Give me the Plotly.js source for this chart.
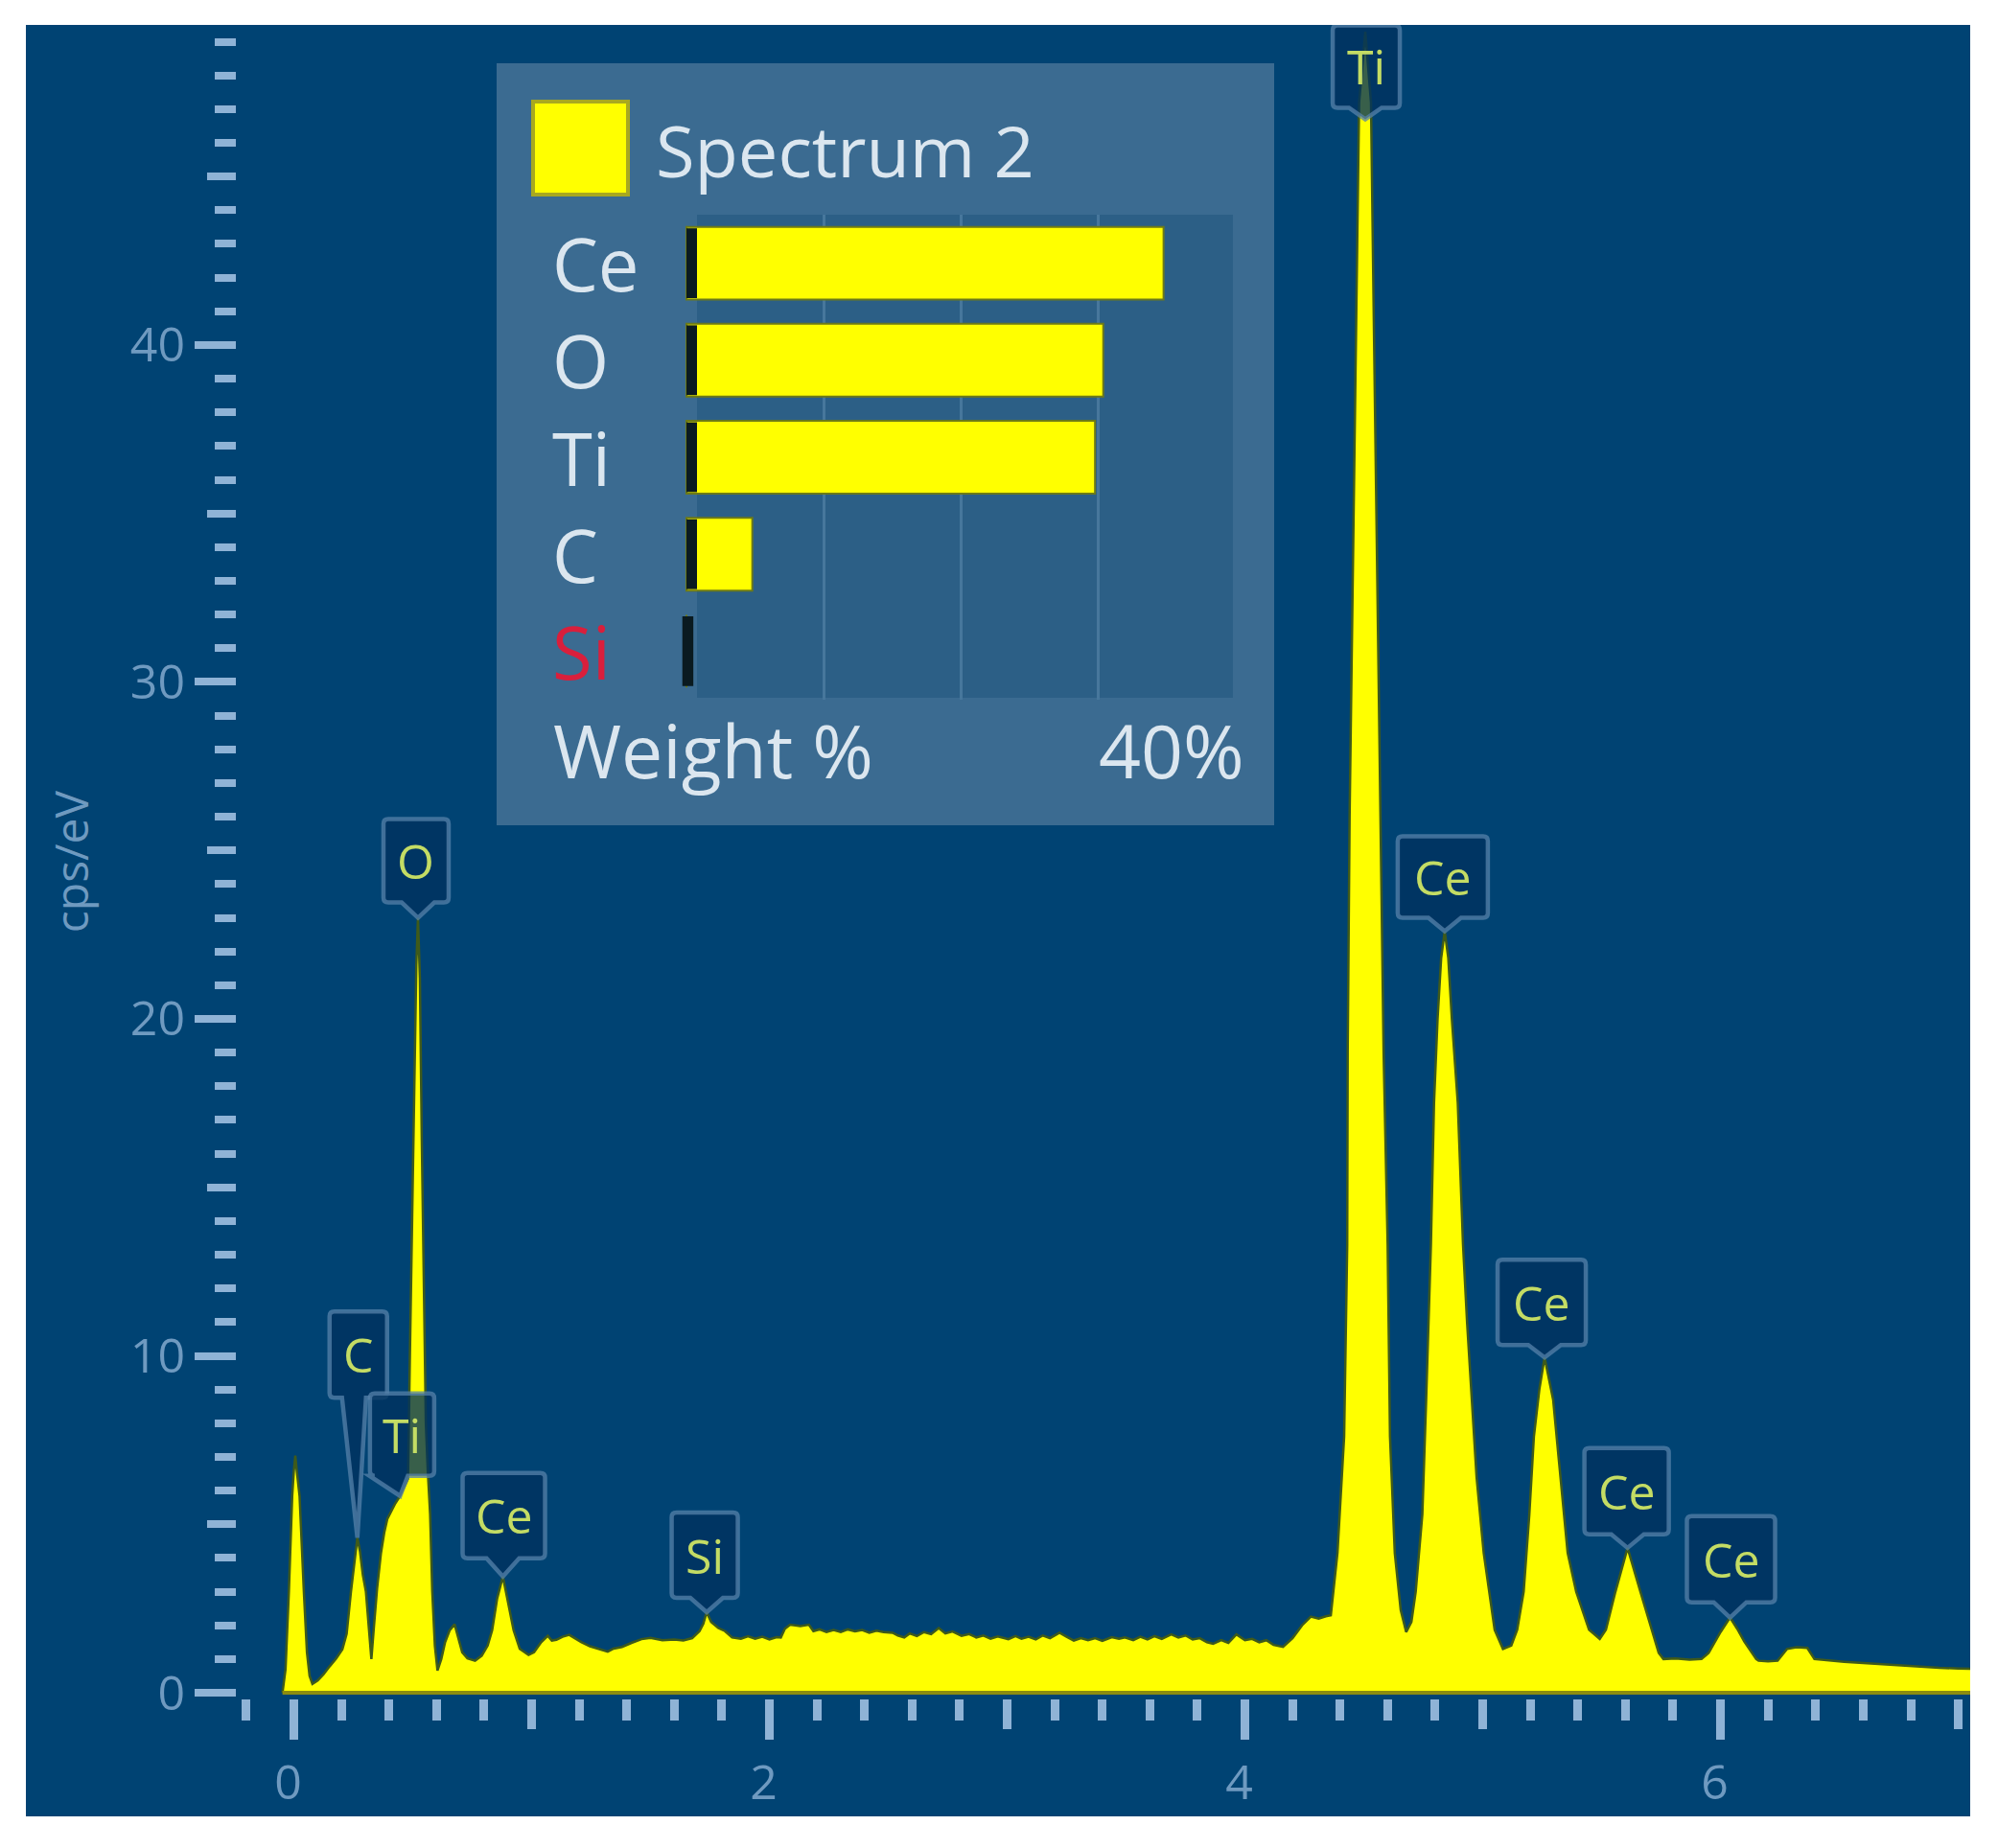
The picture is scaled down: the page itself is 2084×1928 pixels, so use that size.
<!DOCTYPE html>
<html>
<head>
<meta charset="utf-8">
<script src="https://cdn.plot.ly/plotly-3.0.1.min.js"></script>
<style>html,body{margin:0;padding:0;background:#fff}</style>
</head>
<body>
<div id="chart" style="width:2084px;height:1928px"></div>
<script>
const W = 2084, H = 1928;

// spectrum: energy in keV, intensity in cps/eV
const energy = [
  -0.048, -0.035, -0.021, -0.007, 0.0, 0.006, 0.012, 0.024, 0.042, 0.055, 0.066, 0.078, 0.1, 0.125, 0.15, 0.178, 0.204, 0.222, 0.24, 0.255, 0.267,
  0.278, 0.29, 0.303, 0.315, 0.326, 0.336, 0.35, 0.366, 0.38, 0.393, 0.41, 0.425, 0.447, 0.465, 0.48,
  0.488, 0.497, 0.507, 0.515, 0.522, 0.53, 0.538, 0.548, 0.555, 0.563, 0.573, 0.582, 0.593, 0.604,
  0.62, 0.636, 0.655, 0.676, 0.692, 0.708, 0.73, 0.762, 0.79, 0.815, 0.834, 0.855, 0.879, 0.9, 0.924, 0.95, 0.987,
  1.01, 1.04, 1.068, 1.085, 1.104, 1.13, 1.158, 1.18, 1.21, 1.245, 1.284, 1.32, 1.345, 1.38, 1.42, 1.462, 1.5, 1.55, 1.6, 1.638, 1.675, 1.706, 1.722, 1.736, 1.755, 1.785, 1.813, 1.843,
  1.88, 1.91, 1.94, 1.97, 2.0, 2.03, 2.048, 2.065, 2.087, 2.13, 2.166, 2.185, 2.21, 2.24, 2.27, 2.3, 2.33, 2.36, 2.39, 2.42, 2.45, 2.48, 2.518, 2.54, 2.567, 2.59, 2.62, 2.65, 2.68, 2.712, 2.74, 2.77, 2.808,
  2.84, 2.87, 2.9, 2.93, 2.96, 3.005, 3.035, 3.06, 3.09, 3.12, 3.15, 3.18, 3.22, 3.25, 3.28, 3.31, 3.34, 3.37, 3.4, 3.44, 3.47, 3.495, 3.53, 3.56, 3.59, 3.62, 3.65, 3.69, 3.72, 3.75, 3.78, 3.81, 3.84, 3.866, 3.9, 3.93, 3.964, 4.0, 4.03, 4.06, 4.09, 4.12, 4.16, 4.2, 4.24, 4.277, 4.31, 4.34, 4.361,
  4.389, 4.417, 4.43, 4.432, 4.44, 4.47, 4.48, 4.506, 4.53, 4.54, 4.57, 4.583, 4.6, 4.61, 4.63, 4.655, 4.678,
  4.7, 4.718, 4.746, 4.762, 4.772, 4.782, 4.795, 4.81, 4.825, 4.84, 4.855, 4.87, 4.895, 4.917, 4.934, 4.954, 4.974, 5.004, 5.05, 5.085,
  5.12, 5.145, 5.172, 5.196, 5.215, 5.238, 5.26, 5.296, 5.327, 5.357, 5.393, 5.447, 5.492,
  5.518, 5.558, 5.609, 5.663, 5.71, 5.74, 5.76, 5.81, 5.87, 5.92, 5.95, 6.0, 6.04, 6.07, 6.1, 6.15, 6.16, 6.2, 6.24, 6.28, 6.32, 6.365, 6.395,
  6.45, 6.52, 6.6, 6.68, 6.76, 6.84, 6.92, 7.0, 7.06
];
const counts = [
  0, 0.7, 3.0, 5.84, 6.6, 7.04, 6.6, 5.84, 3.0, 1.2, 0.5, 0.26, 0.36, 0.55, 0.78, 1.02, 1.29, 1.75, 3.0, 4.0, 4.6,
  4.2, 3.5, 3.0, 1.8, 1.0, 1.9, 3.1, 4.13, 4.75, 5.16, 5.4, 5.6, 5.84, 6.1, 6.35,
  10.0, 14.2, 18.4, 21.6, 23.0, 21.2, 16.4, 11.0, 8.0, 6.6, 5.3, 3.0, 1.4, 0.66,
  1.0, 1.5, 1.85, 2.03, 1.65, 1.2, 1.02, 0.95, 1.1, 1.4, 1.86, 2.8, 3.45, 2.7, 1.86, 1.3, 1.12,
  1.2, 1.5, 1.69, 1.55, 1.57, 1.66, 1.72, 1.62, 1.5, 1.38, 1.29, 1.22, 1.31, 1.36, 1.48, 1.59, 1.63, 1.56, 1.58, 1.55, 1.62, 1.83, 2.05, 2.39, 2.1, 1.92, 1.83, 1.64,
  1.6, 1.68, 1.6, 1.66, 1.58, 1.65, 1.64, 1.9, 2.02, 1.98, 2.02, 1.83, 1.88, 1.8, 1.86, 1.8, 1.88, 1.82, 1.86, 1.78, 1.84, 1.8, 1.78, 1.7, 1.64, 1.76, 1.68, 1.8, 1.74, 1.92, 1.76, 1.82, 1.69,
  1.74, 1.64, 1.7, 1.6, 1.67, 1.59, 1.68, 1.6, 1.66, 1.58, 1.7, 1.62, 1.78, 1.66, 1.55, 1.62, 1.56, 1.62, 1.54, 1.65, 1.6, 1.64, 1.56, 1.66, 1.58, 1.68, 1.6, 1.73, 1.64, 1.7, 1.58, 1.62, 1.5, 1.45, 1.56, 1.48, 1.73, 1.56, 1.6, 1.5, 1.56, 1.42, 1.36, 1.62, 2.0, 2.26, 2.2, 2.27, 2.3,
  4.15, 7.6, 13.3, 19.0, 26.0, 41.7, 47.2, 49.3, 47.2, 41.7, 26.0, 19.0, 13.3, 7.6, 4.15, 2.45, 1.8,
  2.1, 3.0, 5.3, 8.7, 11.0, 13.3, 17.5, 20.0, 21.8, 22.6, 21.8, 20.0, 17.5, 13.3, 11.0, 8.7, 6.4, 4.15, 1.87, 1.3,
  1.4, 1.87, 3.0, 5.3, 7.6, 9.0, 9.95, 8.7, 6.4, 4.15, 3.0, 1.87, 1.6,
  1.87, 3.0, 4.3, 3.0, 1.87, 1.18, 1.0, 1.02, 0.98, 1.0, 1.18, 1.8, 2.23, 1.9, 1.52, 1.0, 0.95, 0.93, 0.95, 1.3, 1.35, 1.33, 1.0,
  0.96, 0.92, 0.88, 0.84, 0.8, 0.78, 0.74, 0.72, 0.71
];
const baselineX = [-0.048, 7.06];
const baselineY = [0, 0];

// y axis ticks
const yMajor = [0, 10, 20, 30, 40];
const yMiddle = [5, 15, 25, 35, 45];
const yMinor = [1, 2, 3, 4, 6, 7, 8, 9, 11, 12, 13, 14, 16, 17, 18, 19, 21, 22, 23, 24, 26, 27, 28, 29, 31, 32, 33, 34, 36, 37, 38, 39, 41, 42, 43, 44, 46, 47, 48, 49];
// x axis ticks
const xMajor = [0, 2, 4, 6];
const xMiddle = [1, 3, 5, 7];
const xMinor = [-0.2, 0.2, 0.4, 0.6, 0.8, 1.2, 1.4, 1.6, 1.8, 2.2, 2.4, 2.6, 2.8, 3.2, 3.4, 3.6, 3.8, 4.2, 4.4, 4.6, 4.8, 5.2, 5.4, 5.6, 5.8, 6.2, 6.4, 6.6, 6.8];

// peak callouts
const peakLabels = ['Ti', 'Ce', 'Ce', 'Ce', 'Ce', 'Ce', 'Si', 'O', 'C', 'Ti'];
const peakEnergy = [4.506, 4.84, 5.26, 5.609, 6.04, 0.879, 1.736, 0.522, 0.267, 0.447];
const peakCounts = [46.7, 22.6, 9.95, 4.3, 2.23, 3.45, 2.39, 23.0, 4.6, 5.84];

// inset weight % bars
const elements = ['Ce', 'O', 'Ti', 'C', 'Si'];
const weights = [34.8, 30.4, 29.8, 4.8, 0];
const stubBase = [0, 0, 0, 0, -0.3];
const stubWidth = [0.77, 0.77, 0.77, 0.77, 0.8];
const elementColors = ['#dbe6ef', '#dbe6ef', '#dbe6ef', '#dbe6ef', '#d91f3c'];

const PANEL = '#004373';
const TICK = '#8fb3d6';
const LABEL = '#6f9ac0';
const YELLOW = '#ffff00';
const EDGE = '#3f5a1a';
const FONT = '"Open Sans", sans-serif';

const fx = (px) => px / W;
const fy = (px) => 1 - px / H;

// box geometry of each callout in pixels: width, height, box centre minus tip, tip to box,
// tail root left and right of tip
const boxes = [
  [70, 86, 1, 12, -17, 17],
  [94, 85, -2, 14, -17, 17],
  [92, 89, -3, 13, -17, 17],
  [88, 90, -1, 14, -17, 17],
  [92, 90, 1, 16, -17, 17],
  [86, 89, 1, 19, -17, 17],
  [69, 89, -2, 15, -17, 17],
  [68, 87, -2, 16, -17, 17],
  [60, 90, 1, 146, -16, 9],
  [67, 86, 2, 21, -32, 8]
];

function calloutPath(b) {
  const [w, h, dx, gap, tl, tr] = b;
  const l = dx - w / 2, r = dx + w / 2, bot = gap, top = gap + h, c = 5;
  return `M 0 0 L ${tr} ${bot} L ${r - c} ${bot} Q ${r} ${bot} ${r} ${bot + c} L ${r} ${top - c} Q ${r} ${top} ${r - c} ${top} ` +
    `L ${l + c} ${top} Q ${l} ${top} ${l} ${top - c} L ${l} ${bot + c} Q ${l} ${bot} ${l + c} ${bot} L ${tl} ${bot} Z`;
}

const traces = [
  {
    type: 'scatter', mode: 'lines', x: energy, y: counts, fill: 'tozeroy', fillcolor: YELLOW,
    line: { color: EDGE, width: 2.5 }, hoverinfo: 'skip', showlegend: false
  },
  {
    type: 'scatter', mode: 'lines', x: baselineX, y: baselineY,
    line: { color: '#8c8c10', width: 4 }, hoverinfo: 'skip', showlegend: false
  },
  // carries the overlay axes with the middle ticks
  {
    type: 'scatter', mode: 'lines', x: [], y: [], xaxis: 'x2', yaxis: 'y2', hoverinfo: 'skip', showlegend: false
  },
  {
    type: 'bar', orientation: 'h', x: weights, y: elements, xaxis: 'x3', yaxis: 'y3', width: 0.75,
    marker: { color: YELLOW, line: { color: '#6c7a18', width: 2 } }, hoverinfo: 'skip', showlegend: false
  },
  {
    type: 'bar', orientation: 'h', x: stubWidth, base: stubBase, y: elements, xaxis: 'x3', yaxis: 'y3', width: 0.72,
    marker: { color: '#0a1a20' }, hoverinfo: 'skip', showlegend: false
  }
];

const xRange = [-0.24, 7.05];
const yRange = [-0.17, 49.5];
const xDomain = [fx(247), fx(2055)];
const yDomain = [fy(1772), fy(26)];

const shapes = [
  { type: 'rect', xref: 'paper', yref: 'paper', x0: fx(27), x1: fx(2055), y0: fy(1895), y1: fy(26), fillcolor: PANEL, line: { width: 0 }, layer: 'below' },
  { type: 'rect', xref: 'paper', yref: 'paper', x0: fx(518), x1: fx(1329), y0: fy(861), y1: fy(66), fillcolor: '#3b6b91', line: { width: 0 }, layer: 'below' },
  { type: 'rect', xref: 'paper', yref: 'paper', x0: fx(727), x1: fx(1286), y0: fy(728), y1: fy(224), fillcolor: '#2c5f86', line: { width: 0 }, layer: 'below' },
  { type: 'rect', xref: 'paper', yref: 'paper', x0: fx(556), x1: fx(655), y0: fy(203), y1: fy(106), fillcolor: YELLOW, line: { color: '#a8a820', width: 4 } }
];
peakLabels.forEach((label, i) => {
  shapes.push({
    type: 'path', xref: 'x', yref: 'y', xsizemode: 'pixel', ysizemode: 'pixel',
    xanchor: peakEnergy[i], yanchor: peakCounts[i], path: calloutPath(boxes[i]),
    fillcolor: 'rgba(0,50,95,0.78)', line: { color: 'rgba(85,130,170,0.75)', width: 4.5 }, layer: 'above'
  });
});

const annotations = peakLabels.map((label, i) => {
  const [, h, dx, gap] = boxes[i];
  return {
    x: peakEnergy[i], y: peakCounts[i], xref: 'x', yref: 'y', text: label, showarrow: false,
    xanchor: 'center', yanchor: 'middle', xshift: dx, yshift: gap + h / 2,
    font: { family: FONT, size: 50, color: '#c4dc64' }
  };
});
elements.forEach((el, i) => {
  annotations.push({
    x: fx(574), y: i, xref: 'paper', yref: 'y3', text: el, showarrow: false, xanchor: 'left', yanchor: 'middle',
    font: { family: FONT, size: 76, color: elementColors[i] }
  });
});
annotations.push(
  { x: fx(682), y: fy(156), xref: 'paper', yref: 'paper', text: 'Spectrum 2', showarrow: false, xanchor: 'left', yanchor: 'middle', font: { family: FONT, size: 74, color: '#dbe6ef' } },
  { x: fx(575), y: fy(782), xref: 'paper', yref: 'paper', text: 'Weight %', showarrow: false, xanchor: 'left', yanchor: 'middle', font: { family: FONT, size: 77, color: '#dbe6ef' } },
  { x: fx(1300), y: fy(782), xref: 'paper', yref: 'paper', text: '40%', showarrow: false, xanchor: 'right', yanchor: 'middle', font: { family: FONT, size: 77, color: '#dbe6ef' } }
);

const layout = {
  width: W,
  height: H,
  paper_bgcolor: '#ffffff',
  plot_bgcolor: 'rgba(0,0,0,0)',
  margin: { l: 0, r: 0, t: 0, b: 0 },
  showlegend: false,
  barmode: 'overlay',
  font: { family: FONT },
  xaxis: {
    domain: xDomain, range: xRange, anchor: 'y', showgrid: false, zeroline: false, showline: false,
    tickmode: 'array', tickvals: xMajor, ticks: 'outside', ticklen: 42, tickwidth: 9, tickcolor: TICK,
    ticklabelstandoff: 2, ticklabelshift: -6, tickfont: { family: FONT, size: 50, color: LABEL },
    minor: { tickmode: 'array', tickvals: xMinor, ticks: 'outside', ticklen: 22, tickwidth: 9, tickcolor: TICK, showgrid: false }
  },
  yaxis: {
    domain: yDomain, range: yRange, anchor: 'x', showgrid: false, zeroline: false, showline: false,
    tickmode: 'array', tickvals: yMajor, ticks: 'outside', ticklen: 43, tickwidth: 8, tickcolor: TICK,
    ticklabelstandoff: 0, tickfont: { family: FONT, size: 50, color: LABEL },
    minor: { tickmode: 'array', tickvals: yMinor, ticks: 'outside', ticklen: 22, tickwidth: 8, tickcolor: TICK, showgrid: false },
    title: { text: 'cps/eV', font: { family: FONT, size: 48, color: LABEL }, standoff: 28 }
  },
  xaxis2: {
    domain: xDomain, range: xRange, anchor: 'y2', overlaying: 'x', side: 'bottom', showgrid: false, zeroline: false, showline: false,
    tickmode: 'array', tickvals: xMiddle, ticks: 'outside', ticklen: 31, tickwidth: 9, tickcolor: TICK, showticklabels: false
  },
  yaxis2: {
    domain: yDomain, range: yRange, anchor: 'x2', overlaying: 'y', side: 'left', showgrid: false, zeroline: false, showline: false,
    tickmode: 'array', tickvals: yMiddle, ticks: 'outside', ticklen: 30, tickwidth: 8, tickcolor: TICK, showticklabels: false
  },
  xaxis3: {
    domain: [fx(700), fx(1286)], range: [-1.12, 39.86], anchor: 'y3', zeroline: false, showline: false,
    tickmode: 'array', tickvals: [10, 20, 30], showticklabels: false, ticks: '', showgrid: true, gridcolor: '#47779c', gridwidth: 3
  },
  yaxis3: {
    domain: [fy(730), fy(224)], range: [4.5, -0.5], anchor: 'x3', type: 'category', categoryorder: 'array', categoryarray: elements,
    showticklabels: false, ticks: '', showgrid: false, zeroline: false, showline: false
  },
  shapes: shapes,
  annotations: annotations
};

Plotly.newPlot('chart', traces, layout, { displayModeBar: false, staticPlot: true });
</script>
</body>
</html>
